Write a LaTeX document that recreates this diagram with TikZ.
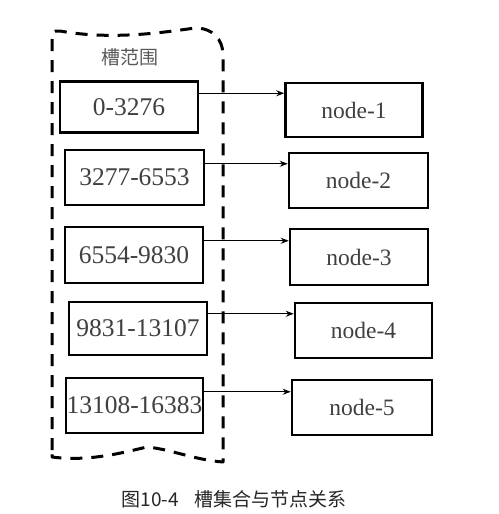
\documentclass[tikz,border=0pt]{standalone}
\usepackage{fontspec}
\setmainfont{Liberation Serif}
\newfontfamily\cjk{Noto Sans CJK SC}
\usetikzlibrary{arrows.meta}
\begin{document}
\begin{tikzpicture}[x=1pt,y=-1pt,
  slotbox/.style={draw, line width=2.5pt, inner sep=0pt,
    font=\fontsize{25.5}{25.5}\selectfont, text=black!75},
  nodebox/.style={draw, line width=2.5pt, inner sep=0pt,
    font=\fontsize{23.5}{23.5}\selectfont, text=black!75},
  link/.style={-{Stealth[length=8pt,width=6pt]}, line width=1pt},
  fence/.style={line width=3pt, dash pattern=on 12pt off 9pt, line join=round}]

\useasboundingbox (0,0) rectangle (498,514);

% slot range boxes
\node[slotbox, minimum width=138pt, minimum height=51pt] (s1) at (129,107) {0-3276};
\node[slotbox, minimum width=139pt, minimum height=55pt] (s2) at (134.5,177.5) {3277-6553};
\node[slotbox, minimum width=138pt, minimum height=56pt] (s3) at (134,255) {6554-9830};
\node[slotbox, minimum width=138pt, minimum height=53pt] (s4) at (138,328.5) {9831-13107};
\node[slotbox, minimum width=137pt, minimum height=55pt] (s5) at (134.5,405.5) {13108-16383};

% cluster nodes
\node[nodebox, minimum width=137pt, minimum height=54pt] (n1) at (354,110) {node-1};
\node[nodebox, minimum width=139pt, minimum height=55pt] (n2) at (358.5,180.5) {node-2};
\node[nodebox, minimum width=138pt, minimum height=56pt] (n3) at (359,257) {node-3};
\node[nodebox, minimum width=137pt, minimum height=55pt] (n4) at (363.5,330.5) {node-4};
\node[nodebox, minimum width=140pt, minimum height=55pt] (n5) at (362,407.5) {node-5};

% slot range -> node links
\foreach \i/\d in {1/13,2/15,3/15,4/13,5/15}{
  \draw[link] ([yshift=-\d pt]s\i.north east) -- ([yshift=-\d pt]s\i.north east -| n\i.west);
}

% dashed outline around the slot ranges
\draw[fence] (52,450) -- (52,40) .. controls (52,31) .. (60,31)
  .. controls (110,40) and (160,33) .. (195,28)
  .. controls (212,28) and (223,38) .. (223,56) -- (223,462)
  .. controls (195,460) and (170,449) .. (147,447)
  .. controls (125,452) and (90,462) .. (52,457) -- cycle;

\node[font=\cjk\fontsize{19}{19}\selectfont, text=black!65] (title) at (130,57) {槽范围};

% caption
\node[font=\cjk\fontsize{19}{19}\selectfont, text=black!85] (caption) at (234,499)
  {图10-4\hspace{15pt}槽集合与节点关系};
\end{tikzpicture}
\end{document}
